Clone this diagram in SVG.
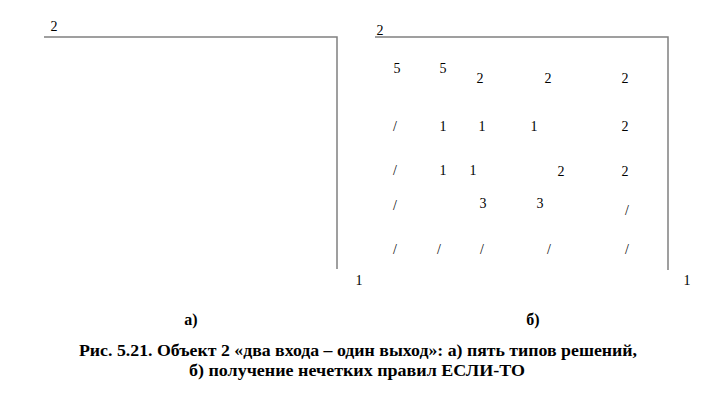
<svg xmlns="http://www.w3.org/2000/svg" width="709" height="406" viewBox="0 0 709 406">
<style>
.ax{fill:none;stroke:#808080;stroke-width:1.5}
.d{font-family:"Liberation Serif",serif;font-size:14px;fill:#000;text-anchor:middle}
.c{font-family:"Liberation Serif",serif;font-size:16px;font-weight:bold;fill:#000;text-anchor:middle}
</style>
<rect width="709" height="406" fill="#fff"/>
<g id="connectors">
<polyline class="ax" points="44,37 337,37 337,269"/>
<polyline class="ax" points="375,37 668,37 668,270"/>
</g>
<g id="plotA">
<text class="d" x="54" y="31">2</text>
<text class="d" x="359" y="285">1</text>
</g>
<g id="plotB">
<text class="d" x="380" y="35">2</text>
<text class="d" x="687" y="285">1</text>
<text class="d" x="397" y="73">5</text>
<text class="d" x="443" y="73">5</text>
<text class="d" x="480" y="83">2</text>
<text class="d" x="548" y="83">2</text>
<text class="d" x="625" y="83">2</text>
<text class="d" x="395" y="131">/</text>
<text class="d" x="443" y="131">1</text>
<text class="d" x="482" y="131">1</text>
<text class="d" x="534" y="131">1</text>
<text class="d" x="625" y="131">2</text>
<text class="d" x="395" y="175">/</text>
<text class="d" x="443" y="175">1</text>
<text class="d" x="473" y="175">1</text>
<text class="d" x="561" y="176">2</text>
<text class="d" x="625" y="176">2</text>
<text class="d" x="395" y="210">/</text>
<text class="d" x="483" y="208">3</text>
<text class="d" x="540" y="208">3</text>
<text class="d" x="627" y="215">/</text>
<text class="d" x="395" y="254">/</text>
<text class="d" x="439" y="254">/</text>
<text class="d" x="482" y="254">/</text>
<text class="d" x="549" y="254">/</text>
<text class="d" x="627" y="254">/</text>
</g>
<g id="captions">
<text class="c" x="191" y="325">а)</text>
<text class="c" x="533" y="325">б)</text>
<text class="c" x="358" y="356" textLength="558" lengthAdjust="spacingAndGlyphs">Рис. 5.21. Объект 2 «два входа – один выход»: а) пять типов решений,</text>
<text class="c" x="357" y="376" textLength="336" lengthAdjust="spacingAndGlyphs">б) получение нечетких правил ЕСЛИ-ТО</text>
</g>
</svg>
